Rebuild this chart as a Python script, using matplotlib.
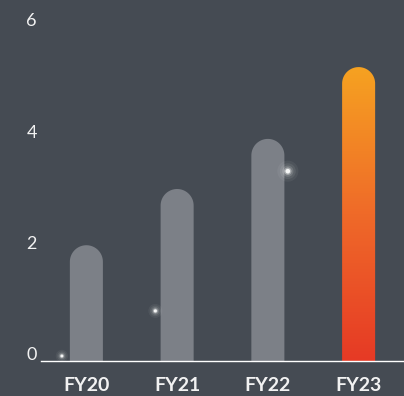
import numpy as np
import matplotlib
matplotlib.use('Agg')
import matplotlib.pyplot as plt
from matplotlib.path import Path
from matplotlib.patches import PathPatch
from matplotlib.transforms import IdentityTransform, ScaledTranslation
from matplotlib.colors import LinearSegmentedColormap

categories = ['FY20', 'FY21', 'FY22', 'FY23']
values = [2.08, 3.09, 3.99, 5.28]
yticks = [0, 2, 4, 6]
sparkle_x = [-0.27, 0.76, 2.22]
sparkle_y = [0.09, 0.90, 3.41]
sparkle_scale = [0.7, 0.8, 1.2]

BG = '#454b53'
GRAY = '#7c8087'
plt.rcParams['font.family'] = ['Lato', 'DejaVu Sans']

fig = plt.figure(figsize=(4.04, 3.96), dpi=100, facecolor=BG)
ax = fig.add_axes([41/404, 35/396, 363/404, 334/396], facecolor=BG)
ax.set_xlim(-0.5, 3.5)
ax.set_ylim(0, 6)
fig.canvas.draw()

width = 0.364
cmap = LinearSegmentedColormap.from_list('g', ['#e63a25', '#ef6a29', '#f6a221'])

def bar_path(xc, v):
    (x0, y0) = ax.transData.transform((xc - width/2, 0))
    (x1, y1) = ax.transData.transform((xc + width/2, v))
    r = (x1 - x0) / 2
    cx = (x0 + x1) / 2
    cy = y1 - r
    theta = np.linspace(0, np.pi, 40)
    arc = np.column_stack([cx + r*np.cos(theta), cy + r*np.sin(theta)])
    verts = np.vstack([[x0, y0], [x1, y0], [x1, cy], arc, [x0, cy], [x0, y0]])
    return Path(verts)

for i, v in enumerate(values):
    p = bar_path(i, v)
    if i < 3:
        ax.add_patch(PathPatch(p, transform=IdentityTransform(), facecolor=GRAY,
                               edgecolor='none', zorder=2))
    else:
        patch = PathPatch(p, transform=IdentityTransform(), facecolor='none',
                          edgecolor='none')
        ax.add_patch(patch)
        grad = np.linspace(0, 1, 256).reshape(-1, 1)
        im = ax.imshow(grad, cmap=cmap, origin='lower', aspect='auto',
                       extent=[i - width/2, i + width/2, 0, v], zorder=2)
        im.set_clip_path(patch)

ax.set_xlim(-0.5, 3.5)
ax.set_ylim(0, 6)

# sparkles
for x, y, s in zip(sparkle_x, sparkle_y, sparkle_scale):
    for size, a in [(160, 0.05), (90, 0.08), (45, 0.15), (20, 0.35), (8, 0.9)]:
        ax.scatter([x], [y], s=size*s*s, color='white', alpha=a, edgecolors='none', zorder=5)

ax.set_xticks(range(len(categories)))
ax.set_xticklabels(categories, fontsize=14, fontweight='bold', color='#f2f2f2')
ax.set_yticks(yticks)
ax.set_yticklabels([str(t) for t in yticks], fontsize=13, color='#f2f2f2')
ax.tick_params(axis='both', length=0)
ax.tick_params(axis='x', pad=11.5)
ax.tick_params(axis='y', pad=3)
for lbl in ax.get_yticklabels():
    lbl.set_transform(lbl.get_transform() + ScaledTranslation(0, 7/100, fig.dpi_scale_trans))

for s in ['top', 'right', 'left']:
    ax.spines[s].set_visible(False)
ax.spines['bottom'].set_color('white')
ax.spines['bottom'].set_linewidth(1.0)
ax.spines['bottom'].set_zorder(6)

fig.savefig('out.png', dpi=100, facecolor=BG)
